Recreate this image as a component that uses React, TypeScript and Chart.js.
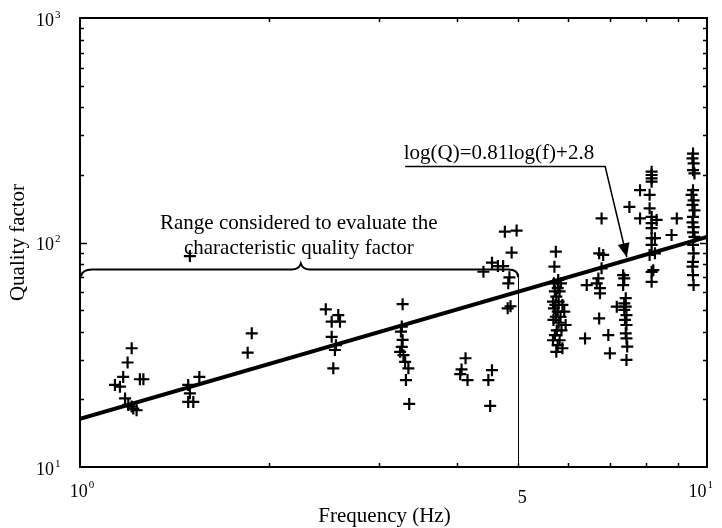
import React, { useEffect, useRef } from "react";
import { Chart, registerables } from "chart.js";

Chart.register(...registerables);

// Measured points (frequency in Hz, quality factor Q)
const frequencyHz = [
  1.209, 1.191, 1.172, 1.137, 1.158, 1.18, 1.246, 1.262, 1.194, 1.216, 1.231, 1.209,
  1.488, 1.55, 1.497, 1.516, 1.488, 1.497,
  1.879, 1.851,
  2.466, 2.582, 2.52, 2.598, 2.52, 2.56, 2.55, 2.535,
  3.27, 3.26, 3.25, 3.27, 3.26, 3.24, 3.28, 3.3, 3.34, 3.31, 3.35,
  4.12, 4.06, 4.04, 4.15,
  4.54, 4.48, 4.51,
  4.76, 4.97, 4.88, 4.54, 4.73, 4.64, 4.4, 4.84, 4.82, 4.81, 4.86,
  5.74, 5.71, 5.79, 5.7, 5.85, 5.78, 5.72, 5.82, 5.75, 5.68, 5.8, 5.73, 5.88, 5.7, 5.78, 5.92,
  5.74, 5.84, 5.69, 5.8, 5.95, 5.76, 5.86, 5.72, 5.82, 5.68, 5.78, 5.88, 5.75,
  6.39, 6.43,
  6.73, 6.79, 6.71, 6.67, 6.75, 6.75, 6.73, 6.79, 6.83,
  6.96, 7.0, 7.18,
  7.35, 7.38, 7.35, 7.42, 7.38, 7.42, 7.38, 7.44, 7.4, 7.44, 7.42, 7.44, 7.46, 7.44,
  7.52, 7.82, 8.1, 7.82, 8.1, 8.16, 8.16, 8.31, 8.16, 8.16, 8.16, 8.16, 8.16, 8.16, 8.26,
  8.16, 8.1, 8.26, 8.21, 8.16, 8.16,
  8.95, 8.78,
  9.5, 9.48, 9.52, 9.5, 9.55, 9.5, 9.45, 9.52, 9.48, 9.55, 9.5, 9.48, 9.52, 9.5, 9.55,
  9.5, 9.52, 9.5, 9.48, 9.5, 9.52,
];
const qualityFactor = [
  33.8, 29.2, 25.2, 23.2, 22.8, 20.2, 24.6, 24.6, 18.9, 18.2, 17.9, 18.6,
  23.2, 25.2, 21.3, 19.5, 19.5, 87,
  39.4, 32.3,
  50.4, 47.5, 44.4, 44.4, 38.0, 34.9, 33.2, 27.5,
  53.1, 42.2, 40.1, 36.8, 34.3, 32.6, 31.5, 29.4, 27.5, 24.4, 19.1,
  30.5, 27.2, 25.9, 24.4,
  27.0, 24.4, 18.7,
  111.7, 113, 90.2, 81.3, 78.5, 78.5, 74.1, 70, 65.8, 50.9, 52,
  91, 78, 68.1, 65.8, 65.8, 62.6, 60.6, 60.6, 57.4, 54.5, 54.5, 52.7, 52.7, 50.9, 49.2, 49.2,
  46.7, 46.7, 45.2, 43.9, 42.9, 40.6, 40.6, 38.7, 36.7, 36.7, 34.9, 33.8, 32.6,
  37.4, 64.6,
  89.5, 76.7, 69.2, 65.8, 62.6, 59.4, 45.9, 128, 88,
  38.7, 32.1, 51.8,
  71.5, 69.2, 64.6, 56.5, 53.6, 51.8, 50.1, 47.5, 45.2, 42.9, 39.4, 37.4, 34.4, 30.0,
  144, 171, 163, 128, 142, 130, 122, 126, 116, 206.7, 199.8, 193, 186.6, 104.5, 104.5,
  97.5, 88, 89.5, 75.3, 66.8, 74,
  128, 108,
  249, 237, 225, 210, 203, 171, 163, 154, 147, 139, 130, 123, 117, 111, 106,
  97.5, 89.5, 82, 78, 71.5, 64.6,
];

// Fitted line end points, ln(Q) = 0.81 ln(f) + 2.8
const fitFrequency = [1, 10];
const fitQuality = [16.4, 106];

// Axis ticks
const xTickValues = [1, 5, 10];
const xTickBase = ["10", "5", "10"];
const xTickExp = ["0", "", "1"];
const yTickValues = [10, 100, 1000];
const yTickBase = ["10", "10", "10"];
const yTickExp = ["1", "2", "3"];
const xMinorTicks = [2, 3, 4, 5, 6, 7, 8, 9];
const yMinorTicks = [20, 30, 40, 50, 60, 70, 80, 90, 200, 300, 400, 500, 600, 700, 800, 900];

// Texts
const xTitle = "Frequency (Hz)";
const yTitle = "Quality factor";
const fitLabel = "log(Q)=0.81log(f)+2.8";
const rangeLabel = ["Range considered to evaluate the", "characteristic quality factor"];

// Annotation anchors (data coordinates)
const rangeFrom = 1;
const rangeTo = 5;
const rangeMid = 2.25;
const rangeLevel = 76;
const calloutFrom = [3.3, 219];
const calloutTo = [6.88, 219];
const arrowTip = [7.45, 86];

const SERIF = '"Liberation Serif", "Times New Roman", serif';

const axesPlugin = {
  id: "paperAxes",
  afterDraw(chart: any) {
    const { ctx, chartArea: ca } = chart;
    const xs = chart.scales.x;
    const ys = chart.scales.y;
    const X = (v: number) => xs.getPixelForValue(v);
    const Y = (v: number) => ys.getPixelForValue(v);
    ctx.save();
    ctx.strokeStyle = "#000";
    ctx.fillStyle = "#000";

    // frame
    ctx.lineWidth = 2;
    ctx.strokeRect(ca.left, ca.top, ca.right - ca.left, ca.bottom - ca.top);

    // inner ticks
    ctx.lineWidth = 1.5;
    ctx.beginPath();
    xMinorTicks.forEach((v) => {
      const px = Math.round(X(v)) + 0.5;
      ctx.moveTo(px, ca.bottom);
      ctx.lineTo(px, ca.bottom - 4);
      ctx.moveTo(px, ca.top);
      ctx.lineTo(px, ca.top + 4);
    });
    yMinorTicks.forEach((v) => {
      const py = Math.round(Y(v)) + 0.5;
      ctx.moveTo(ca.left, py);
      ctx.lineTo(ca.left + 4, py);
      ctx.moveTo(ca.right, py);
      ctx.lineTo(ca.right - 4, py);
    });
    const p100 = Math.round(Y(100)) + 0.5;
    ctx.moveTo(ca.left, p100);
    ctx.lineTo(ca.left + 7, p100);
    ctx.moveTo(ca.right, p100);
    ctx.lineTo(ca.right - 7, p100);
    ctx.stroke();

    // tick labels
    const baseFont = `18px ${SERIF}`;
    const expFont = `11px ${SERIF}`;
    ctx.textBaseline = "middle";
    yTickValues.forEach((v, i) => {
      const py = Y(v);
      ctx.font = baseFont;
      ctx.textAlign = "right";
      ctx.fillText(yTickBase[i], 54, py + 3);
      ctx.font = expFont;
      ctx.textAlign = "left";
      ctx.fillText(yTickExp[i], 55, py - 3);
    });
    xTickValues.forEach((v, i) => {
      const px = X(v);
      ctx.font = baseFont;
      const bw = ctx.measureText(xTickBase[i]).width;
      ctx.font = expFont;
      const ew = xTickExp[i] ? ctx.measureText(xTickExp[i]).width + 1 : 0;
      let left = px - (bw + ew) / 2 + (ew ? 2 : 4);
      if (left + bw + ew > 713) left = 713 - bw - ew;
      ctx.font = baseFont;
      ctx.textAlign = "left";
      ctx.fillText(xTickBase[i], left, ca.bottom + (ew ? 25 : 31));
      if (ew) {
        ctx.font = expFont;
        ctx.fillText(xTickExp[i], left + bw + 1, ca.bottom + 18);
      }
    });

    // axis titles
    ctx.font = `21px ${SERIF}`;
    ctx.textAlign = "center";
    ctx.textBaseline = "alphabetic";
    ctx.fillText(xTitle, (ca.left + ca.right) / 2 - 9, ca.bottom + 55);
    ctx.save();
    ctx.translate(24, (ca.top + ca.bottom) / 2);
    ctx.rotate(-Math.PI / 2);
    ctx.fillText(yTitle, 0, 0);
    ctx.restore();

    // range brace
    const bx0 = X(rangeFrom);
    const bx1 = X(rangeTo);
    const bm = X(rangeMid);
    const by = Math.round(Y(rangeLevel)) + 0.5;
    ctx.lineWidth = 2;
    ctx.beginPath();
    ctx.moveTo(bx0 + 1, by + 7);
    ctx.quadraticCurveTo(bx0 + 2, by, bx0 + 12, by);
    ctx.lineTo(bm - 9, by);
    ctx.quadraticCurveTo(bm - 2, by, bm, by - 6);
    ctx.quadraticCurveTo(bm + 2, by, bm + 9, by);
    ctx.lineTo(bx1 - 10, by);
    ctx.quadraticCurveTo(bx1, by, bx1, by + 8);
    ctx.stroke();
    // vertical marker at the upper limit of the range
    ctx.lineWidth = 1;
    ctx.beginPath();
    ctx.moveTo(Math.round(bx1) + 0.5, by + 8);
    ctx.lineTo(Math.round(bx1) + 0.5, ca.bottom);
    ctx.stroke();

    ctx.font = `21px ${SERIF}`;
    ctx.textAlign = "center";
    ctx.fillText(rangeLabel[0], bm - 2, by - 41);
    ctx.fillText(rangeLabel[1], bm - 2, by - 16);

    // fit callout
    const cx0 = X(calloutFrom[0]);
    const cx1 = X(calloutTo[0]);
    const cy = Math.round(Y(calloutFrom[1])) + 0.5;
    const tx = X(arrowTip[0]);
    const ty = Y(arrowTip[1]);
    ctx.lineWidth = 1.5;
    ctx.beginPath();
    ctx.moveTo(cx0, cy);
    ctx.lineTo(cx1, cy);
    ctx.lineTo(tx, ty);
    ctx.stroke();
    const ang = Math.atan2(ty - cy, tx - cx1);
    const hl = 14;
    const hw = 6;
    ctx.beginPath();
    ctx.moveTo(tx, ty);
    ctx.lineTo(
      tx - hl * Math.cos(ang) + hw * Math.sin(ang),
      ty - hl * Math.sin(ang) - hw * Math.cos(ang)
    );
    ctx.lineTo(
      tx - hl * Math.cos(ang) - hw * Math.sin(ang),
      ty - hl * Math.sin(ang) + hw * Math.cos(ang)
    );
    ctx.closePath();
    ctx.fill();
    ctx.font = `21px ${SERIF}`;
    ctx.textAlign = "right";
    ctx.fillText(fitLabel, cx1 - 11, cy - 8);

    ctx.restore();
  },
};

export default function App() {
  const canvasRef = useRef<HTMLCanvasElement | null>(null);

  useEffect(() => {
    const canvas = canvasRef.current;
    if (!canvas) return;
    const points = frequencyHz.map((f, i) => ({ x: f, y: qualityFactor[i] }));
    const fit = fitFrequency.map((f, i) => ({ x: f, y: fitQuality[i] }));
    const chart = new Chart(canvas, {
      type: "scatter",
      data: {
        datasets: [
          {
            label: "fit",
            data: fit,
            showLine: true,
            borderColor: "#000",
            backgroundColor: "#000",
            borderWidth: 4,
            pointRadius: 0,
            pointHoverRadius: 0,
          },
          {
            label: "measured",
            data: points,
            pointStyle: "cross",
            pointRadius: 6,
            pointHoverRadius: 6,
            pointBorderWidth: 2.2,
            borderColor: "#000",
            backgroundColor: "#000",
          },
        ],
      },
      options: {
        responsive: false,
        animation: false,
        devicePixelRatio: 1,
        layout: { padding: { left: 80, top: 18, right: 15, bottom: 61 } },
        scales: {
          x: { type: "logarithmic", min: 1, max: 10, display: false },
          y: { type: "logarithmic", min: 10, max: 1000, display: false },
        },
        plugins: {
          legend: { display: false },
          tooltip: { enabled: false },
        },
        events: [],
      },
      plugins: [axesPlugin],
    });
    return () => chart.destroy();
  }, []);

  return (
    <div style={{ position: "absolute", left: 0, top: 0, width: 722, height: 528, background: "#fff" }}>
      <canvas ref={canvasRef} width={722} height={528} />
    </div>
  );
}
